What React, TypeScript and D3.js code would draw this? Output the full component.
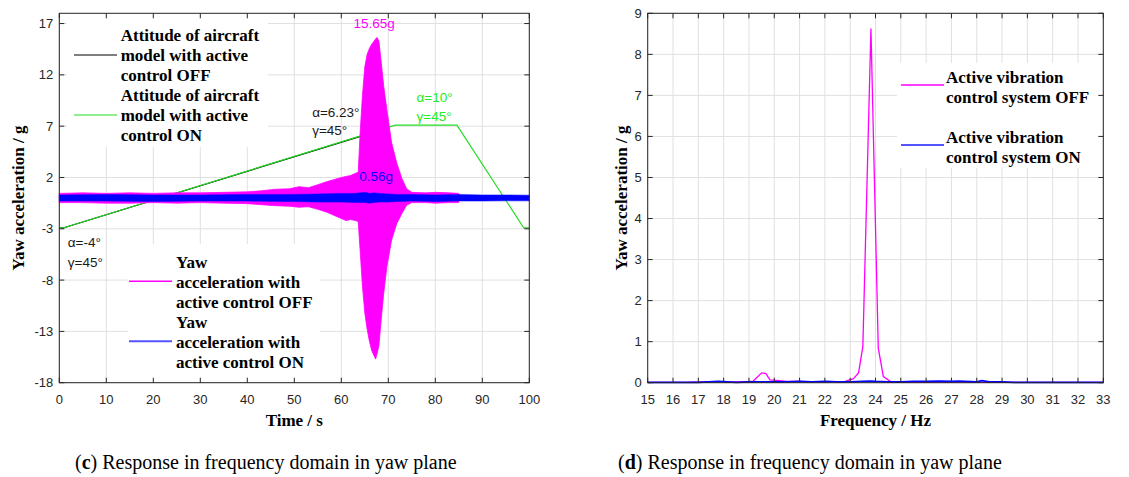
import React from "react";
import * as d3 from "d3";

// ---------- data ----------
const timeTicks = [0, 10, 20, 30, 40, 50, 60, 70, 80, 90, 100];
const accelTicks = [-18, -13, -8, -3, 2, 7, 12, 17];
const freqTicks = [15, 16, 17, 18, 19, 20, 21, 22, 23, 24, 25, 26, 27, 28, 29, 30, 31, 32, 33];
const spectrumTicks = [0, 1, 2, 3, 4, 5, 6, 7, 8, 9];

// attitude (angle of attack sweep) drawn on the time-domain axes
const attitudeOnT = [0, 1, 71.5, 84.6, 98.8, 100];
const attitudeOnV = [-2.9, -2.9, 7.1, 7.1, -2.9, -2.9];
const attitudeOffT = [0, 1, 64.4];
const attitudeOffV = [-2.9, -2.9, 6.05];

// yaw acceleration envelope, active control OFF
const offT = [0, 5, 10, 15, 20, 25, 30, 35, 40, 43, 46, 49, 51, 53, 55, 57, 58.5, 60, 61, 62, 63, 63.6, 64, 64.5, 65, 65.5, 66, 66.5, 67, 67.3, 67.6, 68, 68.5, 69, 69.7, 70.7, 71.8, 72.9, 73.9, 75, 78, 80, 83, 85];
const offHi = [0.45, 0.5, 0.45, 0.5, 0.45, 0.5, 0.5, 0.55, 0.6, 0.7, 0.85, 0.9, 1.1, 1.0, 1.3, 1.6, 1.8, 2.0, 2.1, 2.2, 2.4, 2.5, 6.3, 10, 12.8, 14.0, 14.6, 15.0, 15.3, 15.5, 15.65, 15.3, 13.2, 11.0, 8.6, 5.4, 3.4, 1.9, 0.9, 0.55, 0.5, 0.55, 0.5, 0.45];
const offLo = [-0.45, -0.45, -0.5, -0.5, -0.45, -0.5, -0.45, -0.5, -0.55, -0.65, -0.75, -0.8, -0.9, -0.85, -1.1, -1.4, -1.7, -2.0, -2.2, -2.1, -2.2, -2.3, -5.1, -8.6, -11.2, -12.8, -14.0, -14.9, -15.4, -15.7, -15.2, -14.4, -11.8, -9.4, -6.7, -4.1, -2.5, -1.5, -0.7, -0.45, -0.45, -0.5, -0.45, -0.45];

// yaw acceleration envelope, active control ON
const onT = [0, 10, 20, 30, 40, 50, 55, 60, 63, 65, 66, 67, 68, 70, 72, 75, 80, 85, 90, 95, 100];
const onHi = [0.3, 0.35, 0.3, 0.3, 0.35, 0.35, 0.4, 0.45, 0.45, 0.56, 0.45, 0.5, 0.45, 0.4, 0.35, 0.35, 0.3, 0.35, 0.3, 0.3, 0.28];
const onLo = [-0.3, -0.3, -0.35, -0.3, -0.3, -0.35, -0.4, -0.4, -0.45, -0.45, -0.5, -0.45, -0.4, -0.4, -0.35, -0.3, -0.35, -0.3, -0.3, -0.28, -0.28];

// spectra
const specOffF = [15, 15.5, 16, 16.5, 17, 17.5, 18, 18.5, 19, 19.17, 19.5, 19.67, 19.83, 20.2, 20.5, 21, 21.5, 22, 22.5, 22.8, 23.13, 23.33, 23.5, 23.82, 24.11, 24.31, 24.64, 25, 25.5, 26, 27, 28, 29, 30, 31, 32, 33];
const specOffV = [0.01, 0.01, 0.01, 0.01, 0.02, 0.02, 0.02, 0.02, 0.03, 0.04, 0.24, 0.22, 0.07, 0.05, 0.03, 0.03, 0.02, 0.02, 0.02, 0.03, 0.1, 0.24, 0.88, 8.63, 0.84, 0.15, 0.01, 0.01, 0.01, 0.01, 0.02, 0.01, 0.01, 0.01, 0.01, 0.01, 0.01];
const specOnF = [15, 16, 17, 17.8, 18.5, 19, 19.5, 20, 20.5, 21, 21.5, 22, 22.5, 23, 23.5, 23.8, 24, 24.5, 25, 25.5, 26, 26.5, 27, 27.3, 28, 28.2, 28.5, 29, 29.5, 30, 31, 32, 33];
const specOnV = [0.01, 0.01, 0.01, 0.03, 0.01, 0.02, 0.02, 0.02, 0.02, 0.03, 0.02, 0.03, 0.02, 0.02, 0.03, 0.04, 0.03, 0.02, 0.02, 0.03, 0.03, 0.04, 0.03, 0.04, 0.02, 0.05, 0.02, 0.02, 0.01, 0.01, 0.01, 0.01, 0.01];

// annotations (data coordinates)
const annotations = [
  { text: "15.65g", t: 67.0, v: 17.05, color: "#ff00ff", anchor: "middle" },
  { text: "α=6.23°", t: 53.8, v: 8.38, color: "#1a1a1a", anchor: "start" },
  { text: "γ=45°", t: 53.8, v: 6.63, color: "#1a1a1a", anchor: "start" },
  { text: "α=10°", t: 76.0, v: 9.77, color: "#22ee22", anchor: "start" },
  { text: "γ=45°", t: 76.0, v: 7.92, color: "#22ee22", anchor: "start" },
  { text: "0.56g", t: 63.8, v: 2.08, color: "#0000ff", anchor: "start" },
  { text: "α=-4°", t: 1.8, v: -4.36, color: "#1a1a1a", anchor: "start" },
  { text: "γ=45°", t: 1.8, v: -6.31, color: "#1a1a1a", anchor: "start" },
];

const legendTop = [
  { lines: ["Attitude of aircraft", "model with active", "control OFF"], color: "#000000", width: 1.2 },
  { lines: ["Attitude of aircraft", "model with active", "control ON"], color: "#22dd22", width: 1.2 },
];
const legendBottom = [
  { lines: ["Yaw", "acceleration with", "active control OFF"], color: "#ff00ff", width: 1.5 },
  { lines: ["Yaw", "acceleration with", "active control ON"], color: "#5555ff", width: 2 },
];
const legendRight = [
  { lines: ["Active vibration", "control system OFF"], color: "#ff00ff", width: 1.5 },
  { lines: ["Active vibration", "control system ON"], color: "#5555ff", width: 2 },
];

// ---------- styles ----------
const AX = "#262626";
const GRID = "#e0e0e0";
const SANS = "'Liberation Sans', Arial, sans-serif";
const SERIF = "'Liberation Serif', 'Times New Roman', serif";

export default function App() {
  // left panel scales
  const xL = d3.scaleLinear().domain([0, 100]).range([59.3, 529.3]);
  const yL = d3.scaleLinear().domain([-18, 18]).range([382.7, 13.3]);
  // right panel scales
  const xR = d3.scaleLinear().domain([15, 33]).range([647.7, 1103.3]);
  const yR = d3.scaleLinear().domain([0, 9]).range([382.7, 13.3]);

  const lineL = (ts: number[], vs: number[]) =>
    d3.line<number>().x((_, i) => xL(ts[i])).y((_, i) => yL(vs[i]))(ts) || "";
  const areaL = (ts: number[], hi: number[], lo: number[]) =>
    d3
      .area<number>()
      .x((_, i) => xL(ts[i]))
      .y0((_, i) => yL(lo[i]))
      .y1((_, i) => yL(hi[i]))(ts) || "";
  const lineR = (fs: number[], vs: number[]) =>
    d3.line<number>().x((_, i) => xR(fs[i])).y((_, i) => yR(vs[i]))(fs) || "";

  const TK = 5;

  const frame = (
    xs: d3.ScaleLinear<number, number>,
    ys: d3.ScaleLinear<number, number>,
    xt: number[],
    yt: number[]
  ) => {
    const [x0, x1] = xs.range();
    const [y0, y1] = ys.range();
    return (
      <g>
        <rect x={x0} y={y1} width={x1 - x0} height={y0 - y1} fill="none" stroke={AX} strokeWidth={1} />
        {xt.map((t) => (
          <g key={"xt" + t}>
            <line x1={xs(t)} x2={xs(t)} y1={y0} y2={y0 - TK} stroke={AX} />
            <line x1={xs(t)} x2={xs(t)} y1={y1} y2={y1 + TK} stroke={AX} />
            <text x={xs(t)} y={403.5} textAnchor="middle" fontFamily={SANS} fontSize={13} fill={AX}>
              {t}
            </text>
          </g>
        ))}
        {yt.map((v) => (
          <g key={"yt" + v}>
            <line x1={x0} x2={x0 + TK} y1={ys(v)} y2={ys(v)} stroke={AX} />
            <line x1={x1} x2={x1 - TK} y1={ys(v)} y2={ys(v)} stroke={AX} />
            <text x={x0 - 6} y={ys(v)} dy="0.35em" textAnchor="end" fontFamily={SANS} fontSize={13} fill={AX}>
              {v}
            </text>
          </g>
        ))}
      </g>
    );
  };

  const grid = (
    xs: d3.ScaleLinear<number, number>,
    ys: d3.ScaleLinear<number, number>,
    xt: number[],
    yt: number[]
  ) => {
    const [x0, x1] = xs.range();
    const [y0, y1] = ys.range();
    return (
      <g stroke={GRID} strokeWidth={1}>
        {xt.map((t) => (
          <line key={"gx" + t} x1={xs(t)} x2={xs(t)} y1={y0} y2={y1} />
        ))}
        {yt.map((v) => (
          <line key={"gy" + v} x1={x0} x2={x1} y1={ys(v)} y2={ys(v)} />
        ))}
      </g>
    );
  };

  const legend = (
    items: { lines: string[]; color: string; width: number }[],
    box: { x: number; y: number; w: number; h: number },
    lineX: number,
    textX: number,
    firstY: number,
    itemStep: number,
    lineOffset: number
  ) => (
    <g>
      <rect x={box.x} y={box.y} width={box.w} height={box.h} fill="#ffffff" />
      {items.map((it, i) => {
        const top = firstY + i * itemStep;
        return (
          <g key={i}>
            <line
              x1={lineX}
              x2={lineX + 43}
              y1={top + lineOffset}
              y2={top + lineOffset}
              stroke={it.color}
              strokeWidth={it.width}
            />
            {it.lines.map((ln, j) => (
              <text
                key={j}
                x={textX}
                y={top + j * 20}
                dy="0.35em"
                fontFamily={SERIF}
                fontWeight="bold"
                fontSize={17}
                fill="#000"
              >
                {ln}
              </text>
            ))}
          </g>
        );
      })}
    </g>
  );

  return (
    <svg
      width={1129}
      height={477}
      style={{ position: "absolute", left: 0, top: 0, background: "#fff" }}
    >
      {/* ---------------- LEFT PANEL ---------------- */}
      {grid(xL, yL, timeTicks, accelTicks)}
      <path d={lineL(attitudeOffT, attitudeOffV)} fill="none" stroke="#000" strokeWidth={1.2} />
      <path d={lineL(attitudeOnT, attitudeOnV)} fill="none" stroke="#22dd22" strokeWidth={1.2} />
      <path d={areaL(offT, offHi, offLo)} fill="#ff00ff" stroke="#ff00ff" strokeWidth={0.8} />
      <path d={areaL(onT, onHi, onLo)} fill="#0000ff" stroke="#0000ff" strokeWidth={0.5} />
      {legend(legendTop, { x: 67, y: 14, w: 201, h: 133 }, 74, 120.7, 35, 60, 20)}
      {legend(legendBottom, { x: 128, y: 244, w: 192, h: 138 }, 129, 176, 261.7, 60, 19.5)}
      {annotations.map((a, i) => (
        <text
          key={i}
          x={xL(a.t)}
          y={yL(a.v)}
          dy="0.35em"
          textAnchor={a.anchor as any}
          fontFamily={SANS}
          fontSize={13.5}
          fill={a.color}
        >
          {a.text}
        </text>
      ))}
      {frame(xL, yL, timeTicks, accelTicks)}
      <text
        transform={`translate(18,198) rotate(-90)`}
        textAnchor="middle"
        dy="0.35em"
        fontFamily={SERIF}
        fontWeight="bold"
        fontSize={17}
      >
        Yaw acceleration / g
      </text>
      <text x={xL(50)} y={425.5} textAnchor="middle" fontFamily={SERIF} fontWeight="bold" fontSize={17}>
        Time / s
      </text>

      {/* ---------------- RIGHT PANEL ---------------- */}
      {grid(xR, yR, freqTicks, spectrumTicks)}
      <path d={lineR(specOffF, specOffV)} fill="none" stroke="#ff00ff" strokeWidth={1.3} />
      <path d={lineR(specOnF, specOnV)} fill="none" stroke="#0000ff" strokeWidth={1.8} />
      {legend(legendRight, { x: 897, y: 63, w: 205, h: 105 }, 901, 946, 77.3, 60, 7.7)}
      {frame(xR, yR, freqTicks, spectrumTicks)}
      <text
        transform={`translate(621,198) rotate(-90)`}
        textAnchor="middle"
        dy="0.35em"
        fontFamily={SERIF}
        fontWeight="bold"
        fontSize={17}
      >
        Yaw acceleration / g
      </text>
      <text x={xR(24)} y={425.5} textAnchor="middle" fontFamily={SERIF} fontWeight="bold" fontSize={17}>
        Frequency / Hz
      </text>

      {/* ---------------- CAPTIONS ---------------- */}
      <text x={75} y={469} fontFamily={SERIF} fontSize={20} fill="#000">
        (<tspan fontWeight="bold">c</tspan>) Response in frequency domain in yaw plane
      </text>
      <text x={618} y={469} fontFamily={SERIF} fontSize={20} fill="#000">
        (<tspan fontWeight="bold">d</tspan>) Response in frequency domain in yaw plane
      </text>
    </svg>
  );
}
